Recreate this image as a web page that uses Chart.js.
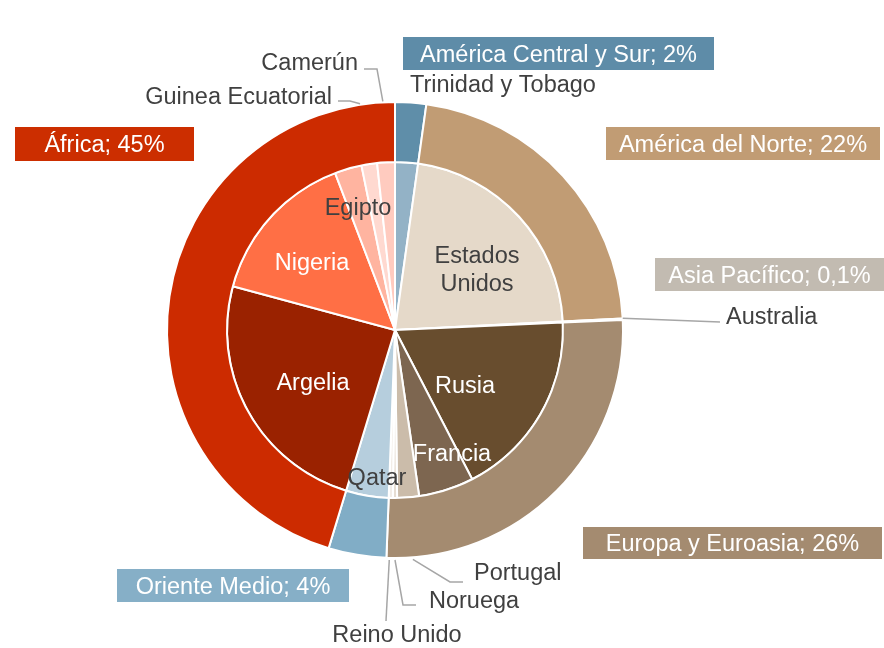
<!DOCTYPE html>
<html>
<head>
<meta charset="utf-8">
<script src="https://cdn.jsdelivr.net/npm/chart.js@4/dist/chart.umd.min.js"></script>
<style>
html,body{margin:0;padding:0;background:#fff;}
#wrap{width:884px;height:648px;position:relative;}
</style>
</head>
<body>
<div id="wrap"><canvas id="c" width="884" height="648"></canvas></div>
<script>
// ---- data ----
const regions = ['América Central y Sur', 'América del Norte', 'Asia Pacífico', 'Europa y Euroasia', 'Oriente Medio', 'África'];
const regionShares = [2.2, 22.0, 0.1, 26.3, 4.1, 45.3];
const countries = ['Trinidad y Tobago', 'Estados Unidos', 'Australia', 'Rusia', 'Francia', 'Portugal', 'Noruega', 'Reino Unido', 'Qatar', 'Argelia', 'Nigeria', 'Egipto', 'Guinea Ecuatorial', 'Camerún'];
const countryShares = [2.2, 22.0, 0.1, 18.1, 5.3, 2.1, 0.4, 0.4, 4.1, 24.5, 15.0, 2.6, 1.5, 1.7];

// ---- styles ----
const regionColors = ['#5f8ea9', '#c19c74', '#c1bab0', '#a48b70', '#81adc6', '#cc2b00'];
const regionBoxColors = ['#5e8ca8', '#c19c74', '#c2bbb1', '#a48b70', '#86afc7', '#cc2e00'];
const countryColors = ['#93b2c6', '#e5d9c9', '#d9d4cd', '#684d2e', '#7d6650', '#cbbcaa', '#e6ddd2', '#f2ede7', '#b6cedd', '#9a2200', '#ff6f45', '#ffb4a0', '#ffd9d0', '#ffcbbf'];

const FONT = '23.5px "Liberation Sans", Arial, sans-serif';
const DARK = '#404040';
const LINE = '#a6a6a6';
const DY = 2; // visual vertical centring offset

function fmtPct(v) {
  if (v < 1) return String(v.toFixed(1)).replace('.', ',') + '%';
  return Math.round(v) + '%';
}

// region label boxes (layout): [x0, y0, x1, y1]
const regionBoxes = [
  [403, 37, 714, 70],
  [606, 127, 880, 160],
  [655, 258, 884, 291],
  [583, 527, 882, 559],
  [117, 569, 349, 602],
  [15, 127, 194, 161]
];

// inner labels (layout)
const innerLabels = {
  1: {lines: ['Estados', 'Unidos'], x: 477, y: 255, color: DARK},
  3: {lines: ['Rusia'], x: 465, y: 385, color: '#ffffff'},
  4: {lines: ['Francia'], x: 452, y: 453, color: '#ffffff'},
  8: {lines: ['Qatar'], x: 377, y: 477, color: DARK},
  9: {lines: ['Argelia'], x: 313, y: 382, color: '#ffffff'},
  10: {lines: ['Nigeria'], x: 312, y: 262, color: '#ffffff'},
  11: {lines: ['Egipto'], x: 358, y: 207, color: DARK}
};

// outside country labels with leader lines (layout)
const outsideLabels = {
  0: {text: 'Trinidad y Tobago', tx: 410, ty: 84, align: 'left', path: null},
  2: {text: 'Australia', tx: 726, ty: 316, align: 'left', path: [[720, 322]]},
  5: {text: 'Portugal', tx: 474, ty: 572, align: 'left', path: [[450, 582], [463, 582]]},
  6: {text: 'Noruega', tx: 429, ty: 600, align: 'left', path: [[403, 605], [416, 605]]},
  7: {text: 'Reino Unido', tx: 397, ty: 634, align: 'center', path: [[386, 621]]},
  12: {text: 'Guinea Ecuatorial', tx: 332, ty: 96, align: 'right', path: [[350, 101], [338, 101]]},
  13: {text: 'Camerún', tx: 358, ty: 62, align: 'right', path: [[377, 69], [364, 69]]}
};

const labelPlugin = {
  id: 'labels',
  afterDraw(chart) {
    const ctx = chart.ctx;
    const outerMeta = chart.getDatasetMeta(0);
    const innerMeta = chart.getDatasetMeta(1);
    const R = outerMeta.data[0].outerRadius;
    ctx.save();
    ctx.font = FONT;
    ctx.textBaseline = 'middle';

    regions.forEach((name, i) => {
      const b = regionBoxes[i];
      ctx.fillStyle = regionBoxColors[i];
      ctx.fillRect(b[0], b[1], b[2] - b[0], b[3] - b[1]);
      ctx.fillStyle = '#ffffff';
      ctx.textAlign = 'center';
      ctx.fillText(name + '; ' + fmtPct(regionShares[i]), (b[0] + b[2]) / 2, (b[1] + b[3]) / 2 + DY);
    });

    Object.keys(innerLabels).forEach(k => {
      const l = innerLabels[k];
      ctx.fillStyle = l.color;
      ctx.textAlign = 'center';
      l.lines.forEach((t, j) => ctx.fillText(t, l.x, l.y + DY + j * 28));
    });

    Object.keys(outsideLabels).forEach(k => {
      const l = outsideLabels[k];
      const arc = innerMeta.data[+k];
      const mid = (arc.startAngle + arc.endAngle) / 2;
      const sx = arc.x + R * Math.cos(mid);
      const sy = arc.y + R * Math.sin(mid);
      if (l.path) {
        ctx.strokeStyle = LINE;
        ctx.lineWidth = 1.5;
        ctx.beginPath();
        ctx.moveTo(sx, sy + (sy > arc.y ? 2 : -1));
        l.path.forEach(p => ctx.lineTo(p[0], p[1]));
        ctx.stroke();
      }
      ctx.fillStyle = DARK;
      ctx.textAlign = l.align;
      ctx.fillText(l.text, l.tx, l.ty + DY);
    });
    ctx.restore();
  }
};

new Chart(document.getElementById('c'), {
  type: 'doughnut',
  data: {
    labels: countries,
    datasets: [
      {
        label: 'Regiones',
        data: regionShares,
        backgroundColor: regionColors,
        borderColor: '#ffffff',
        borderWidth: 2,
        weight: 60
      },
      {
        label: 'Países',
        data: countryShares,
        backgroundColor: countryColors,
        borderColor: '#ffffff',
        borderWidth: 2,
        weight: 168
      }
    ]
  },
  options: {
    responsive: false,
    animation: false,
    cutout: 0,
    layout: {padding: {left: 166, right: 260, top: 101, bottom: 89}},
    plugins: {
      legend: {display: false},
      tooltip: {enabled: false},
      title: {display: false}
    }
  },
  plugins: [labelPlugin]
});
</script>
</body>
</html>
